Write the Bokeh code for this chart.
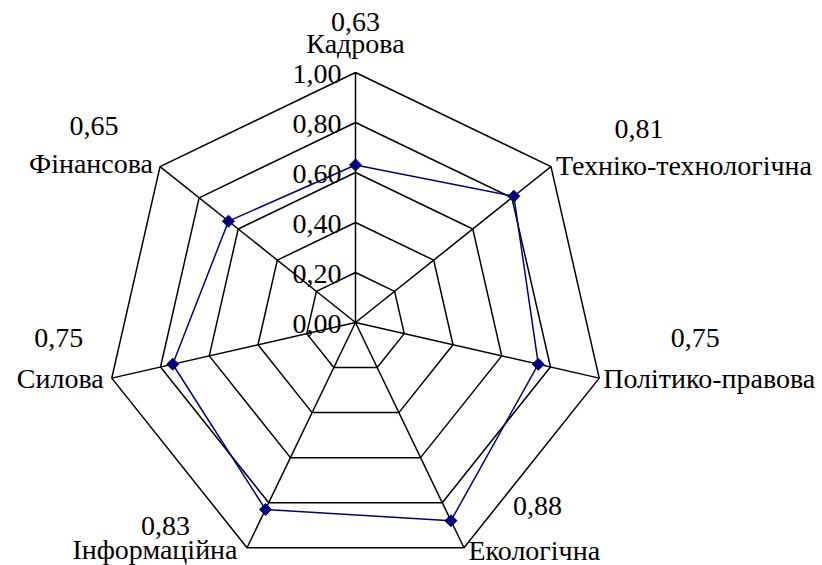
import math
from bokeh.plotting import figure
from bokeh.models import Range1d, ColumnDataSource
from bokeh.core.properties import value
from bokeh.embed import file_html
from bokeh.resources import INLINE

categories = ["Кадрова", "Техніко-технологічна", "Політико-правова", "Екологічна",
              "Інформаційна", "Силова", "Фінансова"]
values = [0.63, 0.81, 0.75, 0.88, 0.83, 0.75, 0.65]
value_labels = ["0,63", "0,81", "0,75", "0,88", "0,83", "0,75", "0,65"]
ticks = [0.0, 0.2, 0.4, 0.6, 0.8, 1.0]
tick_labels = ["0,00", "0,20", "0,40", "0,60", "0,80", "1,00"]

# layout / style (pixel offsets relative to each spoke's outer vertex)
cat_align = ["center", "left", "left", "left", "right", "right", "right"]
cat_dx = [0, 5, 4, 4.5, -9.5, -8, -7]
cat_dy = [-29, -1, 0, 3, 2, 0, -3]
val_dx = [0, 88, 96, 73.5, -81.5, -53, -66]
val_dy = [-51, -38, -40, -42, -22, -40, -41]

FONT = "Liberation Serif, Times New Roman, DejaVu Serif, serif"
FS = "28px"
n = len(categories)
angles = [2 * math.pi * k / n for k in range(n)]

W, H = 822, 565
cx, cy, R = 355, 322, 250.0
p = figure(width=W, height=H, output_backend="svg", toolbar_location=None,
           x_range=Range1d(-cx / R, (W - cx) / R),
           y_range=Range1d(-(H - cy) / R, cy / R),
           min_border=0)
p.axis.visible = False
p.grid.visible = False
p.outline_line_color = None
p.background_fill_color = "white"
p.border_fill_color = "white"

# rings
for t in ticks[1:]:
    xs = [t * math.sin(a) for a in angles]
    ys = [t * math.cos(a) for a in angles]
    p.line(xs + [xs[0]], ys + [ys[0]], line_color="black", line_width=1.5)

# spokes
p.multi_line([[0, math.sin(a)] for a in angles], [[0, math.cos(a)] for a in angles],
             line_color="black", line_width=1.5)

# data polygon
dx_ = [v * math.sin(a) for v, a in zip(values, angles)]
dy_ = [v * math.cos(a) for v, a in zip(values, angles)]
p.line(dx_ + [dx_[0]], dy_ + [dy_[0]], line_color="#000080", line_width=1.5)
p.scatter(dx_, dy_, marker="square", angle=math.pi / 4, size=8.5,
          fill_color="#000080", line_color="#000080", line_width=1)

# tick labels
p.text([0.0] * len(ticks), ticks, text=tick_labels, x_offset=-14, y_offset=1,
       text_align="right", text_baseline="middle",
       text_font=value(FONT), text_font_size=FS, text_color="black")

# category labels
vx = [math.sin(a) for a in angles]
vy = [math.cos(a) for a in angles]
src = ColumnDataSource(dict(x=vx, y=vy, t=categories, al=cat_align, xo=cat_dx, yo=cat_dy))
p.text(x="x", y="y", text="t", text_align="al", x_offset="xo", y_offset="yo",
       text_baseline="middle", text_font=value(FONT), text_font_size=FS,
       text_color="black", source=src)

# value labels
src2 = ColumnDataSource(dict(x=vx, y=vy, t=value_labels, xo=val_dx, yo=val_dy))
p.text(x="x", y="y", text="t", text_align="center", x_offset="xo", y_offset="yo",
       text_baseline="middle", text_font=value(FONT), text_font_size=FS,
       text_color="black", source=src2)

open("out.html", "w").write(file_html(p, INLINE))
